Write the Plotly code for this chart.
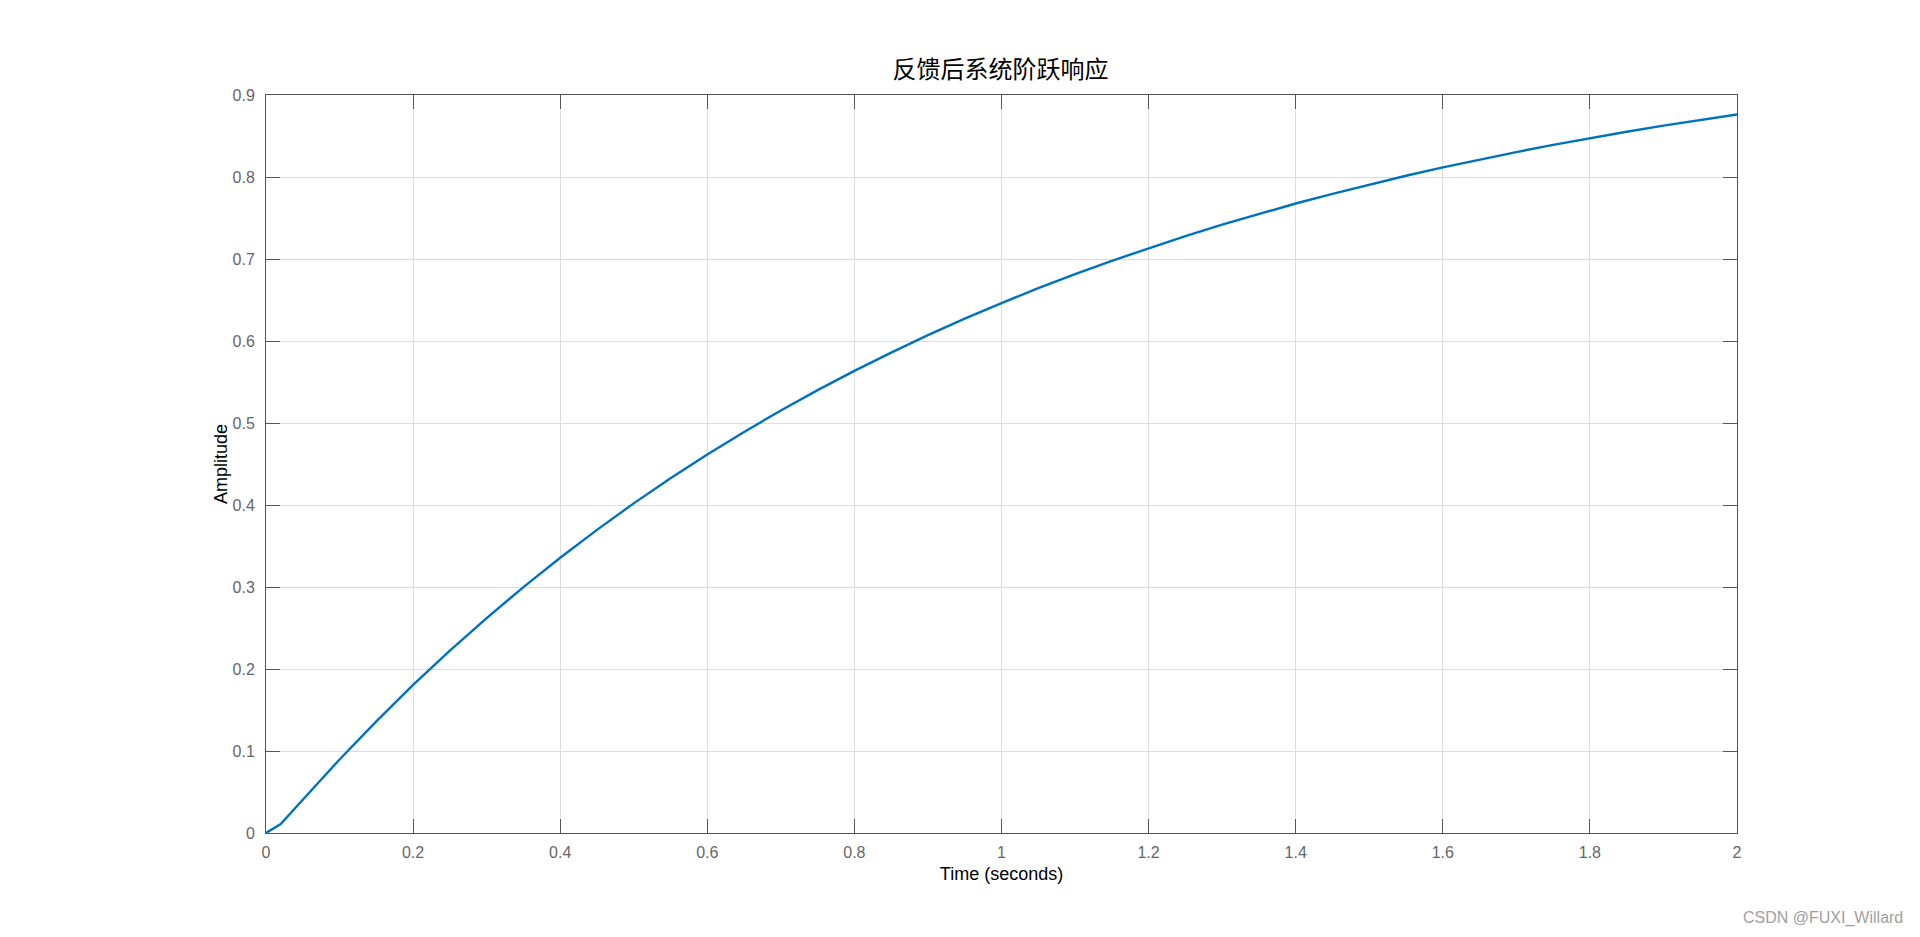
import plotly.graph_objects as go

# Step response
time_s = [0, 0.02, 0.05, 0.1, 0.15, 0.2, 0.25, 0.3, 0.35, 0.4, 0.45, 0.5, 0.55, 0.6,
          0.65, 0.7, 0.75, 0.8, 0.85, 0.9, 0.95, 1.0, 1.05, 1.1, 1.15, 1.2, 1.25,
          1.3, 1.35, 1.4, 1.45, 1.5, 1.55, 1.6, 1.65, 1.7, 1.75, 1.8, 1.85, 1.9,
          1.95, 2.0]
amplitude = [0, 0.011, 0.0405, 0.0897, 0.1362, 0.1805, 0.2224, 0.2621, 0.2999,
             0.3357, 0.3697, 0.4020, 0.4326, 0.4616, 0.4891, 0.5153, 0.5401,
             0.5636, 0.5859, 0.6071, 0.6272, 0.6463, 0.6644, 0.6816, 0.6978,
             0.7133, 0.7280, 0.7419, 0.7551, 0.7677, 0.7795, 0.7908, 0.8015,
             0.8117, 0.8213, 0.8304, 0.8391, 0.8473, 0.8552, 0.8626, 0.8696,
             0.8763]

x_ticks = [0, 0.2, 0.4, 0.6, 0.8, 1, 1.2, 1.4, 1.6, 1.8, 2]
x_tick_labels = ["0", "0.2", "0.4", "0.6", "0.8", "1", "1.2", "1.4", "1.6", "1.8", "2"]
y_ticks = [0, 0.1, 0.2, 0.3, 0.4, 0.5, 0.6, 0.7, 0.8, 0.9]
y_tick_labels = ["0", "0.1", "0.2", "0.3", "0.4", "0.5", "0.6", "0.7", "0.8", "0.9"]

title_text = "反馈后系统阶跃响应"
x_title = "Time (seconds)"
y_title = "Amplitude"
watermark = "CSDN @FUXI_Willard"

axis_color = "#555555"
grid_color = "#dddddd"
font_family = "Liberation Sans, Arial, sans-serif"

fig = go.Figure()
fig.add_trace(go.Scatter(
    x=time_s, y=amplitude, mode="lines",
    line=dict(color="#0072BD", width=2.4),
    hoverinfo="x+y", showlegend=False,
))

common_axis = dict(
    showline=True, linecolor=axis_color, linewidth=1, mirror="ticks",
    ticks="inside", ticklen=14, tickwidth=1, tickcolor=axis_color,
    showgrid=True, gridcolor=grid_color, gridwidth=1,
    zeroline=False,
    tickfont=dict(family=font_family, size=16, color="#666666"),
)

fig.update_xaxes(
    range=[0, 2], tickvals=x_ticks, ticktext=x_tick_labels,
    title=dict(text=x_title, font=dict(family=font_family, size=18, color="#000000"), standoff=7),
    ticklabelstandoff=5,
    **common_axis,
)
fig.update_yaxes(
    range=[0, 0.9], tickvals=y_ticks, ticktext=y_tick_labels,
    title=dict(text=y_title, font=dict(family=font_family, size=18, color="#000000"), standoff=0),
    ticklabelstandoff=7,
    **common_axis,
)

fig.update_layout(
    width=1904, height=921,
    margin=dict(l=258, r=175, t=87, b=96),
    paper_bgcolor="white", plot_bgcolor="white",
    title=dict(text=title_text, x=0.5213, xanchor="center", y=0.9327, yanchor="middle",
               font=dict(family="Noto Sans CJK SC, sans-serif", size=24, color="#000000")),
    annotations=[dict(
        text=watermark, xref="paper", yref="paper", x=1.0, y=0,
        xshift=168, yshift=-85, xanchor="right", yanchor="middle", showarrow=False,
        font=dict(family=font_family, size=16, color="#a0a0a0"),
    )],
)

fig.write_html("out.html")
